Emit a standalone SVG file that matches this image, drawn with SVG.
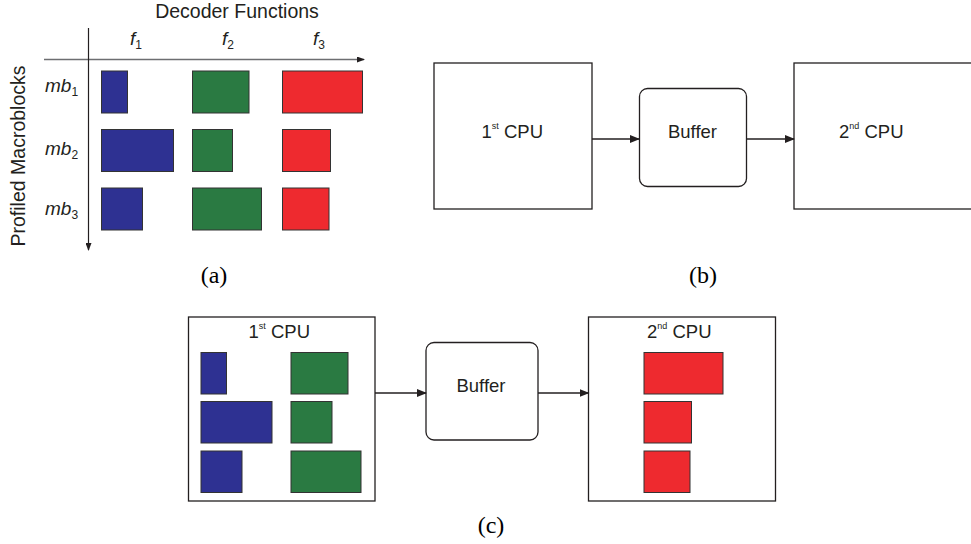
<svg xmlns="http://www.w3.org/2000/svg" width="971" height="544" viewBox="0 0 971 544">
<style>
.sans{font-family:"Liberation Sans",Arial,sans-serif;fill:#231f20}
.lbl{font-size:18.5px}
.sup{font-size:9px}
.it{font-style:italic;font-size:19px}
.sub{font-size:12px}
.cap{font-family:"Liberation Serif","Times New Roman",serif;font-size:24px;fill:#000}
.box{fill:#fff;stroke:#231f20;stroke-width:1.3}
.b{fill:#2e3192;stroke:#333;stroke-width:1}
.g{fill:#2a7a42;stroke:#333;stroke-width:1}
.r{fill:#ee2a2f;stroke:#333;stroke-width:1}
.ln{stroke:#231f20;stroke-width:1.5;fill:none}
</style>
<defs>
<marker id="ah" markerWidth="10" markerHeight="8" refX="9" refY="4" orient="auto" markerUnits="userSpaceOnUse">
<path d="M0,0 L10,4 L0,8 Z" fill="#231f20"/>
</marker>
<marker id="ahs" markerWidth="8" markerHeight="6" refX="7" refY="3" orient="auto" markerUnits="userSpaceOnUse">
<path d="M0,0 L8,3 L0,6 Z" fill="#231f20"/>
</marker>
</defs>

<!-- Panel (a) -->
<g id="panel-a">
<text class="sans" x="237" y="18" font-size="19.5" text-anchor="middle">Decoder Functions</text>
<text class="sans" font-size="19.5" text-anchor="middle" transform="translate(25,156) rotate(-90)">Profiled Macroblocks</text>
<text class="sans it" x="130" y="45">f<tspan class="sub" font-style="normal" dy="4">1</tspan></text>
<text class="sans it" x="222" y="45">f<tspan class="sub" font-style="normal" dy="4">2</tspan></text>
<text class="sans it" x="313" y="45">f<tspan class="sub" font-style="normal" dy="4">3</tspan></text>
<text class="sans it" x="45" y="92">mb<tspan class="sub" font-style="normal" dy="4">1</tspan></text>
<text class="sans it" x="45" y="155">mb<tspan class="sub" font-style="normal" dy="4">2</tspan></text>
<text class="sans it" x="45" y="215">mb<tspan class="sub" font-style="normal" dy="4">3</tspan></text>
<rect class="b" x="101.5" y="71" width="26" height="42"/>
<rect class="g" x="192.5" y="71" width="56.5" height="42"/>
<rect class="r" x="282.5" y="71" width="80" height="42"/>
<rect class="b" x="101.5" y="129.5" width="72" height="42"/>
<rect class="g" x="192.5" y="129.5" width="40" height="42"/>
<rect class="r" x="282.5" y="129.5" width="48" height="42"/>
<rect class="b" x="101.5" y="188" width="41" height="42"/>
<rect class="g" x="192.5" y="188" width="69" height="42"/>
<rect class="r" x="282.5" y="188" width="46.5" height="42"/>
</g>
<g id="axes">
<line x1="44" y1="59.5" x2="364" y2="59.5" stroke="#6d6e71" stroke-width="1.5" marker-end="url(#ahs)"/>
<line x1="88.5" y1="28" x2="88.5" y2="250" stroke="#231f20" stroke-width="1.2" marker-end="url(#ahs)"/>
</g>
<text class="cap" x="214" y="283" text-anchor="middle">(a)</text>

<!-- Panel (b) -->
<g id="b-cpu1">
<rect class="box" x="434" y="63" width="158" height="146"/>
<text class="sans lbl" x="481.5" y="138">1<tspan class="sup" dy="-9">st</tspan><tspan dy="9"> CPU</tspan></text>
</g>
<g id="b-buffer">
<rect class="box" x="639.5" y="88.5" width="107" height="98" rx="8"/>
<text class="sans lbl" x="692.5" y="138" text-anchor="middle">Buffer</text>
</g>
<g id="b-cpu2">
<rect class="box" x="794" y="63" width="190" height="146"/>
<text class="sans lbl" x="839" y="138">2<tspan class="sup" dy="-9">nd</tspan><tspan dy="9"> CPU</tspan></text>
</g>
<g id="b-connectors">
<line class="ln" x1="592" y1="139" x2="639" y2="139" marker-end="url(#ah)"/>
<line class="ln" x1="746.5" y1="139" x2="794" y2="139" marker-end="url(#ah)"/>
</g>
<text class="cap" x="703" y="283" text-anchor="middle">(b)</text>

<!-- Panel (c) -->
<g id="c-cpu1">
<rect class="box" x="188.5" y="317" width="186.5" height="184"/>
<text class="sans lbl" x="248.5" y="338">1<tspan class="sup" dy="-9">st</tspan><tspan dy="9"> CPU</tspan></text>
<rect class="b" x="201" y="352.5" width="25.5" height="41.5"/>
<rect class="b" x="201" y="401.5" width="71" height="41.5"/>
<rect class="b" x="201" y="451" width="41" height="41.5"/>
<rect class="g" x="291" y="352.5" width="57" height="41.5"/>
<rect class="g" x="291" y="401.5" width="41" height="41.5"/>
<rect class="g" x="291" y="451" width="70" height="41.5"/>
</g>
<g id="c-buffer">
<rect class="box" x="426" y="342.5" width="112" height="97.5" rx="8"/>
<text class="sans lbl" x="481" y="391.5" text-anchor="middle">Buffer</text>
</g>
<g id="c-cpu2">
<rect class="box" x="588.5" y="317" width="187" height="184"/>
<text class="sans lbl" x="647" y="338">2<tspan class="sup" dy="-9">nd</tspan><tspan dy="9"> CPU</tspan></text>
<rect class="r" x="644" y="352.5" width="79" height="41.5"/>
<rect class="r" x="644" y="401.5" width="47.5" height="41.5"/>
<rect class="r" x="644" y="451" width="46" height="41.5"/>
</g>
<g id="c-connectors">
<line class="ln" x1="375" y1="393" x2="426" y2="393" marker-end="url(#ah)"/>
<line class="ln" x1="538" y1="393" x2="588.5" y2="393" marker-end="url(#ah)"/>
</g>
<text class="cap" x="491" y="533" text-anchor="middle">(c)</text>
</svg>
